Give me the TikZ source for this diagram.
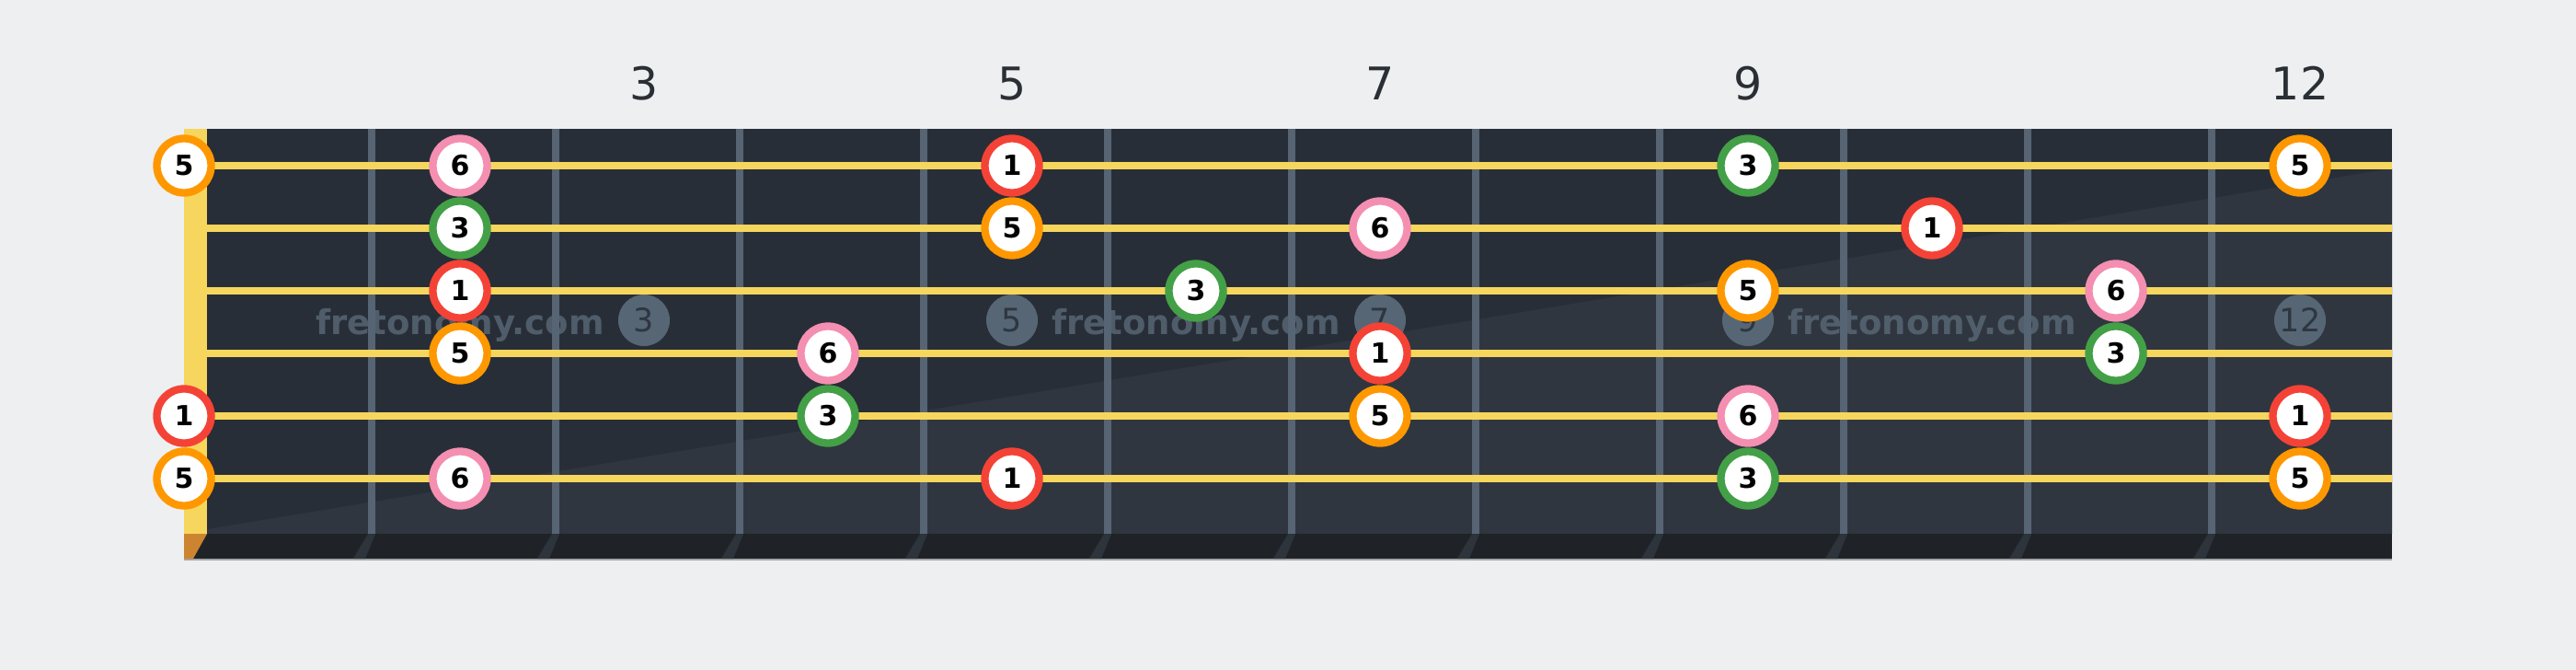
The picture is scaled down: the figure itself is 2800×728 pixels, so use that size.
\documentclass[tikz,border=0pt]{standalone}
\usepackage{fontspec}
\setmainfont{DejaVu Sans}
\definecolor{bgc}{HTML}{EEEFF1}
\definecolor{boardc}{HTML}{282E37}
\definecolor{boardlc}{HTML}{30363F}
\definecolor{stripc}{HTML}{1F2328}
\definecolor{stringc}{HTML}{F7D65E}
\definecolor{fretc}{HTML}{566473}
\definecolor{fretextc}{HTML}{2E343C}
\definecolor{markc}{HTML}{576675}
\definecolor{marktc}{HTML}{2E3640}
\definecolor{nutbc}{HTML}{CC8430}
\definecolor{numc}{HTML}{2A2F36}
\definecolor{cred}{HTML}{F44336}
\definecolor{corange}{HTML}{FF9800}
\definecolor{cgreen}{HTML}{43A047}
\definecolor{cpink}{HTML}{F48FB1}
\tikzset{
  note/.style={circle, draw, fill=white, line width=4.15pt, minimum size=29.5pt, inner sep=0pt,
    font=\fontsize{15pt}{15pt}\selectfont\bfseries, text=black},
  deg1/.style={draw=cred},
  deg3/.style={draw=cgreen},
  deg5/.style={draw=corange},
  deg6/.style={draw=cpink},
  marker/.style={circle, fill=markc, minimum size=28pt, inner sep=0pt,
    font=\fontsize{17.5pt}{17.5pt}\selectfont, text=marktc},
  fretnum/.style={anchor=base, inner sep=0pt, font=\fontsize{24.5pt}{24.5pt}\selectfont, text=numc},
  wmark/.style={anchor=base, inner sep=0pt, font=\fontsize{18.5pt}{18.5pt}\selectfont\bfseries, text=markc, text opacity=0.85},
  stringline/.style={draw=stringc, line width=4pt},
  fretline/.style={draw=fretc, line width=4pt}
}
\begin{document}
\begin{tikzpicture}[x=0.5pt,y=-0.5pt]
\useasboundingbox (0,0) rectangle (2800,728);
\fill[bgc] (0,0) rectangle (2800,728);
% board
\fill[boardc] (200,140) rectangle (2600,580);
\fill[boardlc] (225,575) -- (2600,183) -- (2600,580) -- (225,580) -- cycle;
\fill[stripc] (200,580) rectangle (2600,607);
\draw[color=gray!70, line width=1pt] (200,607.5) -- (2600,607.5);
% nut bottom
\fill[nutbc] (200,580) -- (225,580) -- (210,607) -- (200,607) -- cycle;
% frets
\foreach \n in {1,...,11}{
  \pgfmathsetmacro{\fx}{204+200*\n}
  \fill[fretextc] (\fx-4,580) -- (\fx+4,580) -- (\fx-7,607) -- (\fx-20,607) -- cycle;
  \draw[fretline] (\fx,140) -- (\fx,580);
}
% markers
\foreach \m/\mx in {3/700,5/1100,7/1500,9/1900,12/2500}{
  \node[marker] (m\m) at (\mx,348) {\m};
  \node[fretnum] (t\m) at (\mx,108) {\m};
}
% strings
\foreach \s in {1,...,6}{
  \draw[stringline] (225,{112+68*\s}) -- (2600,{112+68*\s});
}
% watermark
\foreach \w/\wx in {a/500,b/1300,c/2100}{
  \node[wmark] (w\w) at (\wx,363) {fretonomy.com};
}
% nut
\fill[stringc] (200,140) rectangle (225,580);
% notes
\foreach \s/\f/\d in {1/0/5,1/2/6,1/5/1,1/9/3,1/12/5,
                      2/2/3,2/5/5,2/7/6,2/10/1,
                      3/2/1,3/6/3,3/9/5,3/11/6,
                      4/2/5,4/4/6,4/7/1,4/11/3,
                      5/0/1,5/4/3,5/7/5,5/9/6,5/12/1,
                      6/0/5,6/2/6,6/5/1,6/9/3,6/12/5}{
  \pgfmathsetmacro{\nx}{ifthenelse(\f==0,200,100+200*\f)}
  \node[note, deg\d] (n\s-\f) at (\nx,{112+68*\s}) {\d};
}
\end{tikzpicture}
\end{document}
